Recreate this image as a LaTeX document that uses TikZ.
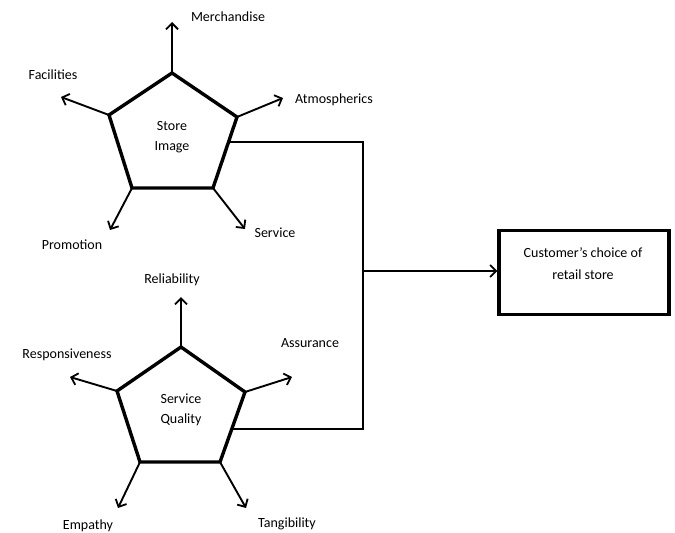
\documentclass[tikz,border=0pt]{standalone}
\usepackage{fontspec}
\setmainfont{Carlito}
\usetikzlibrary{arrows.meta}
\begin{document}
\begin{tikzpicture}[x=1pt,y=-1pt,
  penta/.style={line width=3.4pt,line join=miter},
  ray/.style={line width=1.9pt,-{Straight Barb[length=6pt,width=12pt,line width=1.8pt]}},
  conn/.style={line width=1.8pt},
  lbl/.style={font=\fontsize{14}{17}\selectfont,inner sep=0pt},
  box/.style={draw,line width=3.4pt,minimum width=170pt,minimum height=84pt,inner sep=0pt}]
\useasboundingbox (0,0) rectangle (675,533);
% Store image pentagon
\coordinate (a1) at (172,73);
\coordinate (a2) at (237,117);
\coordinate (a3) at (213,188);
\coordinate (a4) at (132,188);
\coordinate (a5) at (109,115);
\draw[penta] (a1) -- (a2) -- (a3) -- (a4) -- (a5) -- cycle;
\node[lbl,align=center] (si) at (172,137) {Store\\[3pt]Image};
\coordinate (m) at (172,22);
\coordinate (f) at (61,97);
\coordinate (at) at (283,98);
\coordinate (p) at (110,230);
\coordinate (s) at (245,229);
\draw[ray] (a1) -- (m);
\draw[ray] (a5) -- (f);
\draw[ray] (a2) -- (at);
\draw[ray] (a4) -- (p);
\draw[ray] (a3) -- (s);
\node[lbl] (lm) at (228,17) {Merchandise};
\node[lbl] (lf) at (53,75) {Facilities};
\node[lbl] (lat) at (334,100) {Atmospherics};
\node[lbl] (lp) at (72,245) {Promotion};
\node[lbl] (ls) at (275,233) {Service};
% Service quality pentagon
\coordinate (b1) at (181,347);
\coordinate (b2) at (245,392);
\coordinate (b3) at (220,462);
\coordinate (b4) at (140,462);
\coordinate (b5) at (117,391);
\draw[penta] (b1) -- (b2) -- (b3) -- (b4) -- (b5) -- cycle;
\node[lbl,align=center] (sq) at (181,410) {Service\\[3pt]Quality};
\coordinate (r) at (181,297);
\coordinate (rs) at (70,377);
\coordinate (as) at (292,377);
\coordinate (e) at (118,508);
\coordinate (t) at (246,508);
\draw[ray] (b1) -- (r);
\draw[ray] (b5) -- (rs);
\draw[ray] (b2) -- (as);
\draw[ray] (b4) -- (e);
\draw[ray] (b3) -- (t);
\node[lbl] (lr) at (172,280) {Reliability};
\node[lbl] (lrs) at (67,355) {Responsiveness};
\node[lbl] (las) at (310,343) {Assurance};
\node[lbl] (le) at (88,526) {Empathy};
\node[lbl] (lt) at (287,524) {Tangibility};
% Customer box
\node[box,align=center] (c) at (584,272.5) {};
\node[lbl,align=center] (ct) at (583,264) {Customer’s choice of\\[5pt]retail store};
% connectors
\coordinate (o1) at (229,142);
\coordinate (o2) at (233,429);
\coordinate (j1) at (363,142);
\coordinate (j2) at (363,429);
\coordinate (j) at (363,271);
\draw[conn] (o1) -- (j1) -- (j2) -- (o2);
\draw[conn,-{Straight Barb[length=6pt,width=12pt,line width=1.8pt]}] (j) -- (c.west |- j);
\end{tikzpicture}
\end{document}
